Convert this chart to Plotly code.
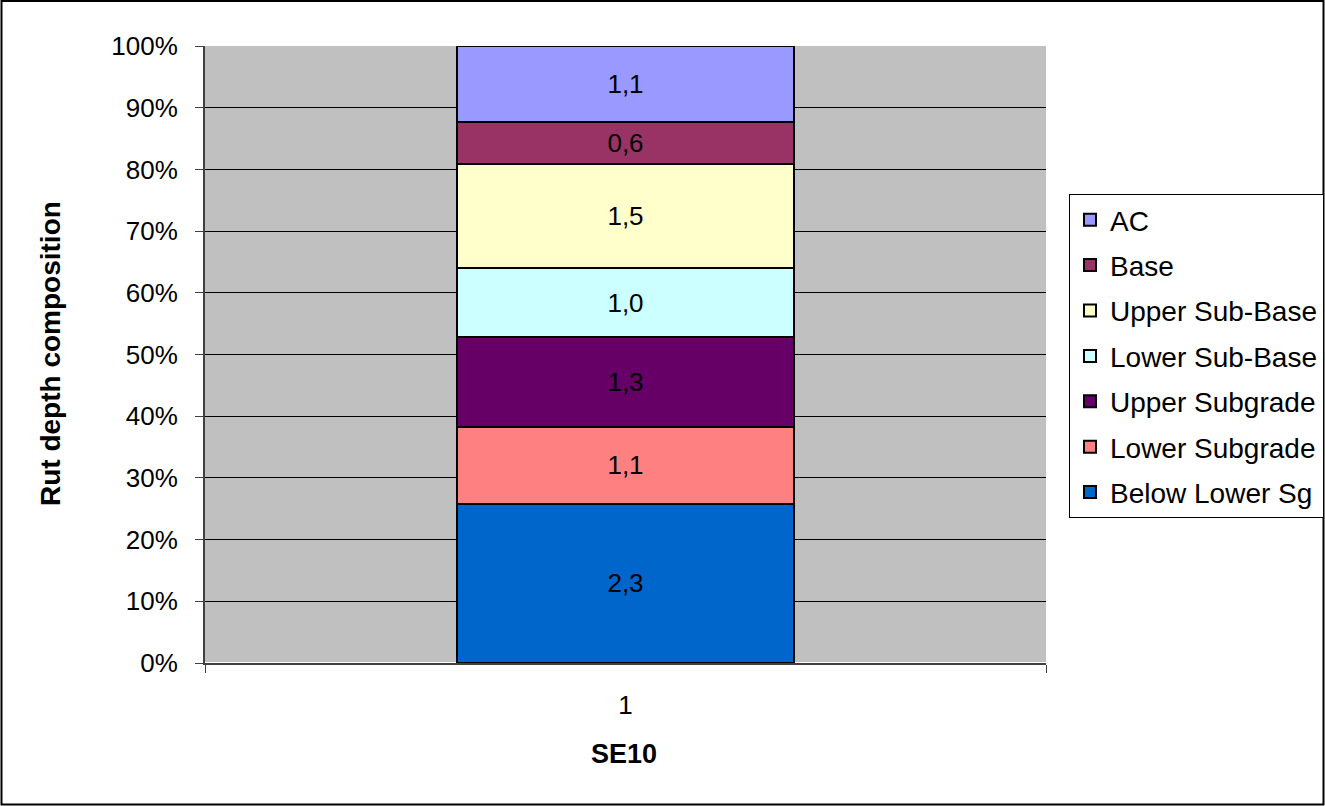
import plotly.graph_objects as go

categories = ["1"]
layers = ["Below Lower Sg", "Lower Subgrade", "Upper Subgrade", "Lower Sub-Base",
          "Upper Sub-Base", "Base", "AC"]
values = [2.3, 1.1, 1.3, 1.0, 1.5, 0.6, 1.1]
colors = ["#0066CC", "#FF8080", "#660066", "#CCFFFF", "#FFFFCC", "#993366", "#9999FF"]
y_ticks = [0, 10, 20, 30, 40, 50, 60, 70, 80, 90, 100]

FONT = "Liberation Sans, Arial, sans-serif"
W, H = 1325, 806
L, R, T, B = 205, 279, 46, 143
pw, ph = W - L - R, H - T - B

fig = go.Figure()
n = len(layers)
for i, (name, v, c) in enumerate(zip(layers, values, colors)):
    fig.add_trace(go.Bar(
        x=categories, y=[v], name=name, legendgroup=name, legendrank=n - i,
        marker=dict(color=c, line=dict(color="black", width=2)),
        text=[f"{v:.1f}".replace(".", ",")], textposition="inside",
        insidetextanchor="middle", constraintext="none",
        textfont=dict(family=FONT, size=26, color="black"),
        width=0.4,
    ))

fig.update_layout(
    width=W, height=H,
    margin=dict(l=L, r=R, t=T, b=B, autoexpand=False),
    barmode="stack", barnorm="percent",
    plot_bgcolor="#C0C0C0", paper_bgcolor="white",
    font=dict(family=FONT, size=26, color="black"),
    showlegend=True,
    legend=dict(
        x=(1069 - L) / pw, y=(H - B - 194) / ph, xanchor="left", yanchor="top",
        bgcolor="white", bordercolor="black", borderwidth=1,
        traceorder="grouped", tracegroupgap=6,
        font=dict(family=FONT, size=28, color="black"),
    ),
    xaxis=dict(
        range=[-0.5, 0.5], tickson="boundaries", ticks="outside", ticklen=8,
        tickcolor="#404040", showline=True, linecolor="#404040", linewidth=2,
        showgrid=False, ticklabelstandoff=18,
        tickfont=dict(family=FONT, size=26),
    ),
    yaxis=dict(
        range=[0, 100], tickvals=y_ticks, ticktext=[f"{t}%" for t in y_ticks],
        ticks="outside", ticklen=8, tickcolor="#404040",
        showline=True, linecolor="#404040", linewidth=2,
        showgrid=True, gridcolor="black", gridwidth=1,
        ticklabelstandoff=12, tickfont=dict(family=FONT, size=26),
    ),
    annotations=[
        dict(text="<b>Rut depth composition</b>", textangle=-90, showarrow=False,
             xref="paper", yref="paper", x=(50 - L) / pw, y=(H - B - 354) / ph,
             xanchor="center", yanchor="middle", font=dict(family=FONT, size=28)),
        dict(text="<b>SE10</b>", showarrow=False,
             xref="paper", yref="paper", x=0.5 - 1.5 / pw, y=(H - B - 754) / ph,
             xanchor="center", yanchor="middle", font=dict(family=FONT, size=27)),
    ],
    shapes=[
        dict(type="rect", xref="paper", yref="paper",
             x0=(1.5 - L) / pw, x1=(1323.5 - L) / pw,
             y0=(H - B - 804.5) / ph, y1=(H - B - 1) / ph,
             line=dict(color="black", width=2), layer="below"),
    ],
)

fig.write_html("out.html")
